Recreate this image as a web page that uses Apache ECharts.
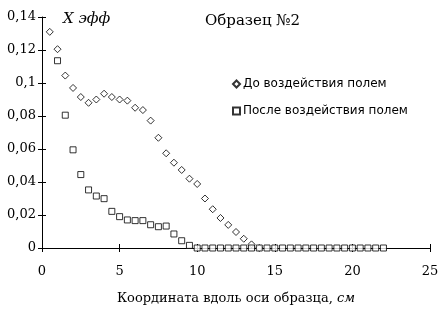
<!DOCTYPE html>
<html><head><meta charset="utf-8">
<script src="https://cdn.jsdelivr.net/npm/echarts@6/dist/echarts.min.js"></script>
<style>html,body{margin:0;padding:0;background:#fff}#c{width:444px;height:317px}</style>
</head><body><div id="c"></div>
<script>
const xBefore = [0.5,1,1.5,2,2.5,3,3.5,4,4.5,5,5.5,6,6.5,7,7.5,8,8.5,9,9.5,10,10.5,11,11.5,12,12.5,13,13.5,14];
const yBefore = [0.131,0.1205,0.1045,0.097,0.0915,0.088,0.090,0.0935,0.0915,0.090,0.0893,0.085,0.0836,0.0772,0.0668,0.0574,0.0517,0.0473,0.042,0.0388,0.030,0.0235,0.0182,0.014,0.0097,0.0056,0.0022,0];
const xAfter = [1,1.5,2,2.5,3,3.5,4,4.5,5,5.5,6,6.5,7,7.5,8,8.5,9,9.5,10,10.5,11,11.5,12,12.5,13,13.5,14,14.5,15,15.5,16,16.5,17,17.5,18,18.5,19,19.5,20,20.5,21,21.5,22];
const yAfter = [0.1135,0.0805,0.0595,0.0445,0.0352,0.0315,0.0299,0.0222,0.019,0.017,0.0166,0.0166,0.0141,0.0129,0.0133,0.0085,0.0044,0.0016,0,0,0,0,0,0,0,0,0,0,0,0,0,0,0,0,0,0,0,0,0,0,0,0,0];
const seriesNames = ['До воздействия полем','После воздействия полем'];
const xTicks = [0,5,10,15,20,25];
const yTicks = [0,0.02,0.04,0.06,0.08,0.1,0.12,0.14];

const chart = echarts.init(document.getElementById('c'));
const serif = 'DejaVu Serif';
const fmtY = v => String(+v.toFixed(2)).replace('.', ',');
const baseX = {type:'value', min:0, max:25, interval:5, gridIndex:0};
const baseY = {type:'value', min:0, max:0.14, interval:0.02, gridIndex:0};
chart.setOption({
  animation:false,
  backgroundColor:'#fff',
  grid:{left:42, right:14, top:17, bottom:69},
  xAxis:[
    Object.assign({}, baseX, {
      axisLine:{lineStyle:{color:'#000', width:1}},
      axisTick:{show:true, length:4, lineStyle:{color:'#000'}},
      axisLabel:{color:'#000', fontFamily:serif, fontSize:13, margin:17},
      splitLine:{show:false},
      name:'{a|Координата вдоль оси образца, }{b|см}', nameLocation:'middle', nameGap:44,
      nameTextStyle:{rich:{a:{fontFamily:serif, fontSize:13, color:'#000'}, b:{fontFamily:serif, fontSize:13, fontStyle:'italic', color:'#000'}}}
    }),
    Object.assign({}, baseX, {
      position:'bottom',
      axisLine:{show:false},
      axisTick:{show:true, inside:true, length:4, lineStyle:{color:'#000'}},
      axisLabel:{show:false}, splitLine:{show:false}
    })
  ],
  yAxis:[
    Object.assign({}, baseY, {
      axisLine:{show:true, lineStyle:{color:'#000', width:1}},
      axisTick:{show:true, length:4, lineStyle:{color:'#000'}},
      axisLabel:{color:'#000', fontFamily:serif, fontSize:13, margin:6, formatter:fmtY},
      splitLine:{show:false}
    }),
    Object.assign({}, baseY, {
      position:'left',
      axisLine:{show:false},
      axisTick:{show:true, inside:true, length:4, lineStyle:{color:'#000'}},
      axisLabel:{show:false}, splitLine:{show:false}
    })
  ],
  legend:{
    orient:'vertical', left:232, top:78, padding:0, itemWidth:7, itemHeight:7, itemGap:15,
    textStyle:{fontFamily:'DejaVu Sans', fontSize:12, color:'#000', padding:[0,0,0,-2]},
    data:seriesNames
  },
  graphic:[
    {type:'text', left:63, top:12, style:{text:'Х эфф', fontFamily:serif, fontSize:15, fontStyle:'italic', fill:'#000'}},
    {type:'text', left:205, top:14, style:{text:'Образец №2', fontFamily:serif, fontSize:15, fill:'#000'}}
  ],
  series:[
    {name:seriesNames[0], type:'scatter', symbol:'diamond', symbolSize:[7,7],
     itemStyle:{color:'#fff', borderColor:'#000', borderWidth:1},
     data:xBefore.map((x,i)=>[x,yBefore[i]]), z:2},
    {name:seriesNames[1], type:'scatter', symbol:'rect', symbolSize:[6,6],
     itemStyle:{color:'#fff', borderColor:'#000', borderWidth:1},
     data:xAfter.map((x,i)=>[x,yAfter[i]]), z:3}
  ]
});
</script></body></html>
